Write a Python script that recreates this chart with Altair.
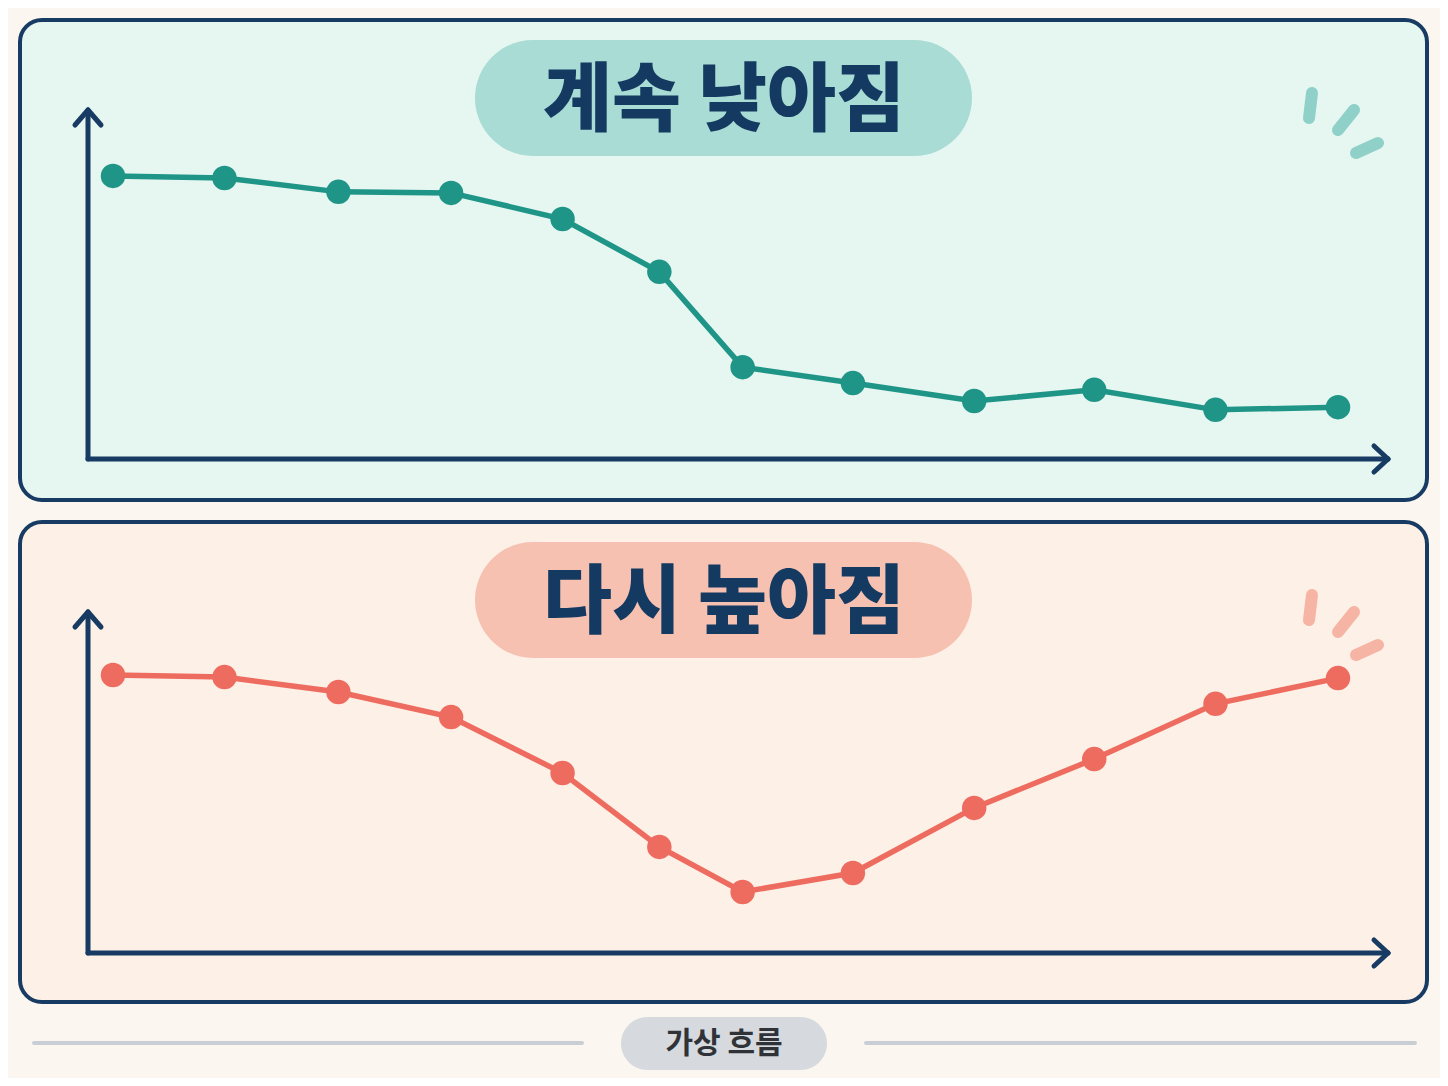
import altair as alt
import pandas as pd

# ---- data ----
x_pos = [0, 9.1, 18.4, 27.6, 36.7, 44.6, 51.4, 60.4, 70.3, 80.1, 90.0, 100]
falling = [83.5, 82.9, 78.8, 78.5, 70.8, 55.2, 27.1, 22.4, 17.1, 20.4, 14.5, 15.3]
rising = [82.0, 81.4, 77.0, 69.6, 53.1, 31.3, 18.0, 23.6, 42.8, 57.2, 73.5, 81.1]
titles = ["계속 낮아짐", "다시 높아짐"]
footer_label = "가상 흐름"

NAVY = "#173B63"
TEAL = "#1F9588"
CORAL = "#EE6C5F"

df_top = pd.DataFrame({"t": x_pos, "v": falling})
df_bot = pd.DataFrame({"t": x_pos, "v": rising})
one = pd.DataFrame({"d": [0]})

W, H = 1432, 1070
xscale = alt.Scale(domain=[0, 100], range=[105, 1330])


def base():
    return alt.Chart(one)


def rect(x, x2, y, y2, fill, stroke=None, sw=0, r=0):
    kw = dict(fill=fill, cornerRadius=r)
    if stroke:
        kw.update(stroke=stroke, strokeWidth=sw)
    return base().mark_rect(**kw).encode(
        x=alt.value(x), x2=alt.value(x2), y=alt.value(y), y2=alt.value(y2))


def seg(x, y, x2, y2, color, sw):
    return base().mark_rule(color=color, strokeWidth=sw, strokeCap="round").encode(
        x=alt.value(x), x2=alt.value(x2), y=alt.value(y), y2=alt.value(y2))


def txt(x, y, s, size, color, weight="bold"):
    return base().mark_text(text=s, font="Noto Sans CJK KR", fontSize=size,
                            fontWeight=weight, color=color, align="center",
                            baseline="middle").encode(x=alt.value(x), y=alt.value(y))


def panel(top, fill, pill, deco, title, df, color, axis_y):
    layers = []
    layers.append(rect(12, 1419, top, top + 480, fill, NAVY, 4, 22))
    # decorative strokes
    o = top - 12
    layers += [seg(1304, 85 + o, 1301, 110 + o, deco, 12),
               seg(1346, 102 + o, 1330, 122 + o, deco, 12),
               seg(1370, 135 + o, 1348, 145 + o, deco, 12)]
    # title pill
    layers.append(rect(467, 964, top + 20, top + 136, pill, r=58))
    layers.append(txt(716, top + 82, title, 75, "#153A61", 900))
    # axes
    layers += [seg(80, axis_y, 80, top + 91, NAVY, 5),
               seg(80, top + 90, 67, top + 105, NAVY, 5),
               seg(80, top + 90, 93, top + 105, NAVY, 5),
               seg(80, axis_y, 1380, axis_y, NAVY, 5),
               seg(1380, axis_y, 1366, axis_y - 13, NAVY, 5),
               seg(1380, axis_y, 1366, axis_y + 13, NAVY, 5)]
    ys = alt.Scale(domain=[0, 100], range=[axis_y, axis_y - 339])
    enc = dict(x=alt.X("t:Q", scale=xscale, axis=None),
               y=alt.Y("v:Q", scale=ys, axis=None))
    layers.append(alt.Chart(df).mark_line(color=color, strokeWidth=5.5).encode(**enc))
    layers.append(alt.Chart(df).mark_circle(color=color, size=600, opacity=1).encode(**enc))
    return layers


layers = [rect(0, W, 0, H, "#FBF7F0")]
layers += panel(12, "#E6F6F1", "#A8DCD4", "#8FD1C8", titles[0], df_top, TEAL, 451)
layers += panel(514, "#FDF0E7", "#F7C1B1", "#F6B4A5", titles[1], df_bot, CORAL, 945)

# footer
layers += [seg(26, 1035, 574, 1035, "#C9CED4", 4),
           seg(858, 1035, 1407, 1035, "#C9CED4", 4),
           rect(613, 1009, 819, 1062, "#D6D9DD", r=27) if False else rect(613, 819, 1009, 1062, "#D6D9DD", r=27),
           txt(716, 1036, footer_label, 30, "#2F3338", "bold")]

chart = alt.layer(*layers).resolve_scale(y="independent").properties(
    width=W, height=H, autosize=alt.AutoSizeParams(type="none"), padding=0
).configure_view(stroke=None).configure(background="#FBF7F0")

chart.save("out.html", embed_options={"renderer": "svg", "actions": False})
